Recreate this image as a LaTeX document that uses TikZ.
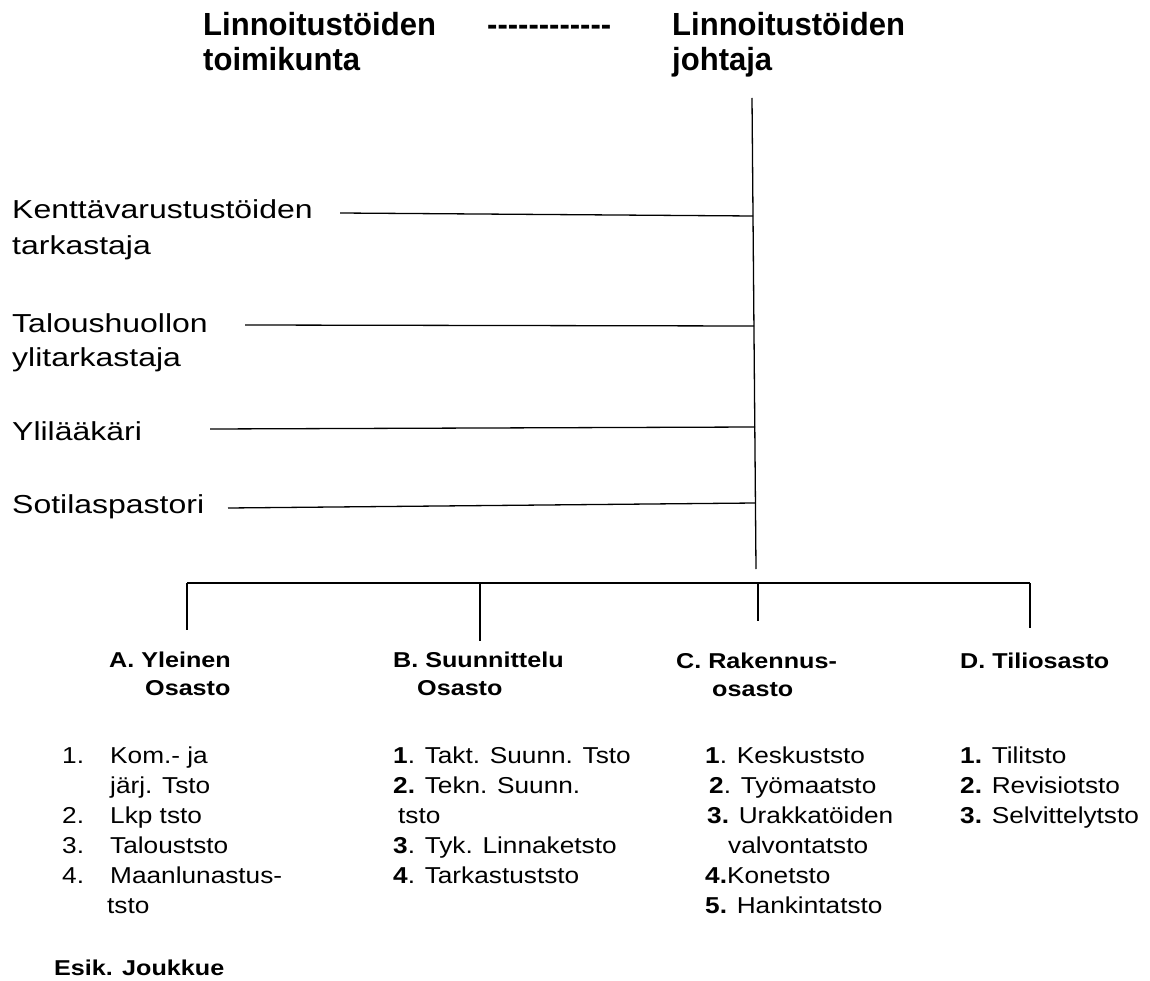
\documentclass[tikz,border=0pt]{standalone}
\usepackage{fontspec}
\setmainfont{Liberation Sans}
\newfontfamily\ftitle[FakeStretch=0.97]{Liberation Sans}
\newfontfamily\fside[FakeStretch=1.23]{Liberation Sans}
\newfontfamily\fdept[FakeStretch=1.17]{Liberation Sans}
\newfontfamily\flist[FakeStretch=1.14]{Liberation Sans}
\begin{document}
\begin{tikzpicture}[x=1pt,y=-1pt,
  every node/.style={inner sep=0pt, anchor=base west},
  ttl/.style={font={\ftitle\bfseries\fontsize{32}{36}\selectfont}},
  side/.style={font={\fside\fontsize{26}{30}\selectfont}},
  dept/.style={font={\fdept\bfseries\fontsize{21.5}{25}\selectfont}},
  item/.style={font={\flist\fontsize{23}{27}\selectfont}},
  ln/.style={line width=1.3pt, line cap=butt}]
\useasboundingbox[fill=white] (0,0) rectangle (1150,981);

% titles
\node[ttl] (tl1) at (203,36) {Linnoitustöiden};
\node[ttl] (tl2) at (203,71) {toimikunta};
\node[ttl] (dash) at (487,36) {-{}-{}-{}-{}-{}-{}-{}-{}-{}-{}-{}-};
\node[ttl] (tr1) at (672,36) {Linnoitustöiden};
\node[ttl] (tr2) at (672,71) {johtaja};

% main vertical line
\coordinate (mtop) at (752,98);
\coordinate (mbot) at (756,569);
\draw[ln] (mtop) -- (mbot);

% side staff
\node[side] (s1a) at (12,219) {Kenttävarustustöiden};
\node[side] (s1b) at (12,255) {tarkastaja};
\node[side] (s2a) at (12,332) {Taloushuollon};
\node[side] (s2b) at (12,366) {ylitarkastaja};
\node[side] (s3) at (12,440) {Ylilääkäri};
\node[side] (s4) at (12,513) {Sotilaspastori};

\coordinate (k1) at (340,213); \coordinate (k2) at (753,216);
\coordinate (t1) at (245,325); \coordinate (t2) at (754,326);
\coordinate (y1) at (210,429); \coordinate (y2) at (755,427);
\coordinate (p1) at (228,508); \coordinate (p2) at (755,503);
\draw[ln] (k1) -- (k2);
\draw[ln] (t1) -- (t2);
\draw[ln] (y1) -- (y2);
\draw[ln] (p1) -- (p2);

% bus
\coordinate (bA) at (187,583);
\coordinate (bB) at (480,583);
\coordinate (bC) at (758,583);
\coordinate (bD) at (1030,583);
\coordinate (dA) at (187,630);
\coordinate (dB) at (480,641);
\coordinate (dC) at (758,621);
\coordinate (dD) at (1030,628);
\draw[ln] (bA) -- (bD);
\draw[ln] (bA) -- (dA);
\draw[ln] (bB) -- (dB);
\draw[ln] (bC) -- (dC);
\draw[ln] (bD) -- (dD);

% department headers
\node[dept] (ha1) at (109,667) {A. Yleinen};
\node[dept] (ha2) at (145,695) {Osasto};
\node[dept] (hb1) at (393,667) {B. Suunnittelu};
\node[dept] (hb2) at (417,695) {Osasto};
\node[dept] (hc1) at (676,668) {C. Rakennus-};
\node[dept] (hc2) at (712,696) {osasto};
\node[dept] (hd1) at (960,668) {D. Tiliosasto};

% list A
\node[item] (an1) at (62,763) {1.};
\node[item] (a1) at (110,763) {Kom.- ja};
\node[item] (a1b) at (110,793) {järj. Tsto};
\node[item] (an2) at (62,823) {2.};
\node[item] (a2) at (110,823) {Lkp tsto};
\node[item] (an3) at (62,853) {3.};
\node[item] (a3) at (110,853) {Talouststo};
\node[item] (an4) at (62,883) {4.};
\node[item] (a4) at (110,883) {Maanlunastus-};
\node[item] (a4b) at (107,913) {tsto};

% list B
\node[item] (b1) at (393,763) {\textbf{1}. Takt. Suunn. Tsto};
\node[item] (b2) at (393,793) {\textbf{2.} Tekn. Suunn.};
\node[item] (b2b) at (398,823) {tsto};
\node[item] (b3) at (393,853) {\textbf{3}. Tyk. Linnaketsto};
\node[item] (b4) at (393,883) {\textbf{4}. Tarkastuststo};

% list C
\node[item] (c1) at (705,763) {\textbf{1}. Keskuststo};
\node[item] (c2) at (709,793) {\textbf{2}. Työmaatsto};
\node[item] (c3) at (707,823) {\textbf{3.} Urakkatöiden};
\node[item] (c3b) at (728,853) {valvontatsto};
\node[item] (c4) at (705,883) {\textbf{4.}Konetsto};
\node[item] (c5) at (705,913) {\textbf{5.} Hankintatsto};

% list D
\node[item] (d1) at (960,763) {\textbf{1.} Tilitsto};
\node[item] (d2) at (960,793) {\textbf{2.} Revisiotsto};
\node[item] (d3) at (960,823) {\textbf{3.} Selvittelytsto};

\node[dept] (esik) at (54,975) {Esik. Joukkue};
\end{tikzpicture}
\end{document}
